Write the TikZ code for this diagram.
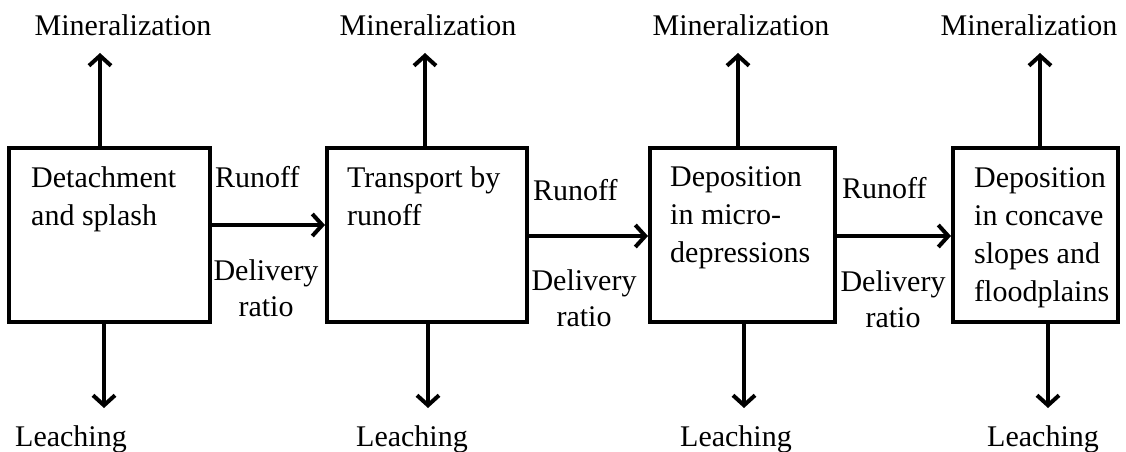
\documentclass[tikz,border=0pt]{standalone}
\usepackage{fontspec}
\setmainfont{Liberation Serif}
\usetikzlibrary{arrows.meta}
\begin{document}
\begin{tikzpicture}[x=1pt,y=-1pt,
  procbox/.style={draw, line width=4pt, inner sep=0pt, minimum height=174pt},
  lbl/.style={inner sep=0pt, font=\fontsize{30}{38}\selectfont},
  arr/.style={line width=4pt, -{Straight Barb[length=10pt,width=22pt]}}
]
\useasboundingbox (0,0) rectangle (1126,452);

% boxes
\node[procbox, minimum width=201pt] (b1) at (109.5,235) {};
\node[procbox, minimum width=200pt] (b2) at (427,235) {};
\node[procbox, minimum width=185pt] (b3) at (742.5,235) {};
\node[procbox, minimum width=165pt] (b4) at (1035.5,235) {};

% box texts
\node[lbl, anchor=north west, align=left] (t1) at (31,166) {Detachment\\and splash};
\node[lbl, anchor=north west, align=left] (t2) at (347,166) {Transport by\\runoff};
\node[lbl, anchor=north west, align=left] (t3) at (670,166) {Deposition\\in micro-\\depressions};
\node[lbl, anchor=north west, align=left] (t4) at (974,167) {Deposition\\in concave\\slopes and\\floodplains};

% runoff / delivery labels
\node[lbl, anchor=north west] (r1) at (215,166) {Runoff};
\node[lbl, anchor=north west] (r2) at (533,179) {Runoff};
\node[lbl, anchor=north west] (r3) at (842,177) {Runoff};
\node[lbl, anchor=north, align=center, font=\fontsize{30}{36}\selectfont] (d1) at (266,259) {Delivery\\ratio};
\node[lbl, anchor=north, align=center, font=\fontsize{30}{36}\selectfont] (d2) at (584,269) {Delivery\\ratio};
\node[lbl, anchor=north, align=center, font=\fontsize{30}{36}\selectfont] (d3) at (893,270) {Delivery\\ratio};

% top / bottom labels
\node[lbl, anchor=base] (m1) at (123,36) {Mineralization};
\node[lbl, anchor=base] (m2) at (428,36) {Mineralization};
\node[lbl, anchor=base] (m3) at (741,36) {Mineralization};
\node[lbl, anchor=base] (m4) at (1029,36) {Mineralization};
\node[lbl, anchor=base] (l1) at (71,446) {Leaching};
\node[lbl, anchor=base] (l2) at (412,446) {Leaching};
\node[lbl, anchor=base] (l3) at (736,446) {Leaching};
\node[lbl, anchor=base] (l4) at (1043,446) {Leaching};

% arrow tips
\coordinate (m1tip) at (100,53);
\coordinate (m2tip) at (425,53);
\coordinate (m3tip) at (738,53);
\coordinate (m4tip) at (1040,53);
\coordinate (l1tip) at (104,408);
\coordinate (l2tip) at (428,408);
\coordinate (l3tip) at (744,408);
\coordinate (l4tip) at (1048,408);

% vertical arrows
\foreach \i in {1,2,3,4} {
  \draw[arr] (b\i.north -| m\i tip) -- (m\i tip);
  \draw[arr] (b\i.south -| l\i tip) -- (l\i tip);
}

% horizontal arrows
\draw[arr] ([yshift=10pt]b1.east) -- ([yshift=10pt]b2.west);
\draw[arr] ([yshift=-1pt]b2.east) -- ([yshift=-1pt]b3.west);
\draw[arr] ([yshift=-1pt]b3.east) -- ([yshift=-1pt]b4.west);
\end{tikzpicture}
\end{document}
